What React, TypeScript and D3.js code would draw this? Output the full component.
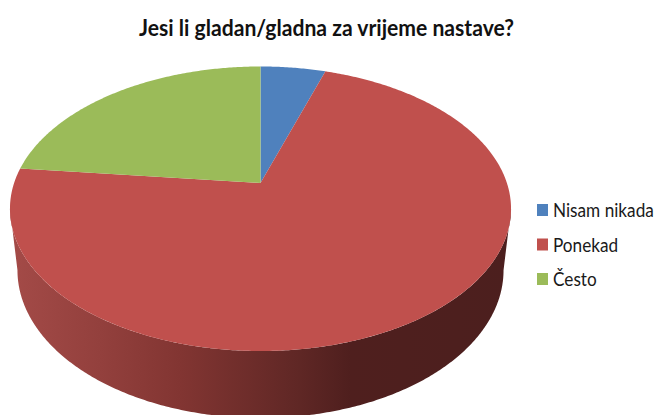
import React from "react";
import * as d3 from "d3";

const categories = ["Nisam nikada", "Ponekad", "Često"];
const shares = [5, 71.7, 23.3];
const colors = ["#4f81bd", "#c0504d", "#9bbb59"];
const chartTitle = "Jesi li gladan/gladna za vrijeme nastave?";

const WIDTH = 656;
const HEIGHT = 415;

// Perspective of the tilted lid: the pie's centre sits above the middle of its ellipse.
const CX = 260.5;
const CY = 183;
const TILT = 0.181;
const RX = 246.4;
const RY = 137.6;

// Lower rim, as an ellipse laid out relative to the lid ellipse.
const LID_MID = 208.5;
const LID_RY = 142.5;
const LID_RX = 250.5;
const RIM_MID = 270;
const RIM_RY = 148;
const RIM_RX = 243;

type Pt = [number, number];

const lid = (theta: number): Pt => {
  const w = 1 + TILT * Math.cos(theta);
  return [CX + (RX * Math.sin(theta)) / w, CY - (RY * Math.cos(theta)) / w];
};

const rim = (theta: number): Pt => {
  const [x, y] = lid(theta);
  return [
    CX + ((x - CX) / LID_RX) * RIM_RX,
    RIM_MID + ((y - LID_MID) / LID_RY) * RIM_RY,
  ];
};

const linePath = d3.line<Pt>();

const pieAngles = d3.pie<number>().sort(null)(shares);

const slicePath = (start: number, end: number) => {
  const steps = Math.max(2, Math.ceil((end - start) / 0.01));
  const angle = d3.scaleLinear().domain([0, steps]).range([start, end]);
  const arcPts = d3.range(steps + 1).map((i) => lid(angle(i)));
  return linePath([[CX, CY], ...arcPts]) + "Z";
};

// The wall runs between the lid's two horizontal extremes, where cos(theta) = -TILT.
const wallStart = Math.acos(-TILT);
const wallEnd = 2 * Math.PI - wallStart;
const wallAngle = d3.scaleLinear().domain([0, 300]).range([wallStart, wallEnd]);
const wallTicks = d3.range(301).map((i) => wallAngle(i));
const wallPath =
  linePath([...wallTicks.map(lid), ...wallTicks.slice().reverse().map(rim)]) + "Z";

// Wall shading runs from a lit left edge to a dark right side.
const wallStops: [number, string][] = [
  [15, "#a34a47"],
  [100, "#93403d"],
  [180, "#823532"],
  [300, "#5f2725"],
  [350, "#4f1f1e"],
  [510, "#4c1f1e"],
];

const legendY = d3.scalePoint<string>().domain(categories).range([210, 279]);

export default function App() {
  return (
    <svg
      width={WIDTH}
      height={HEIGHT}
      viewBox={`0 0 ${WIDTH} ${HEIGHT}`}
      style={{ position: "absolute", left: 0, top: 0, display: "block", background: "#fff" }}
    >
      <defs>
        <linearGradient id="wall" gradientUnits="userSpaceOnUse" x1={15} x2={510} y1={0} y2={0}>
          {wallStops.map(([x, c]) => (
            <stop key={x} offset={(x - 15) / 495} stopColor={c} />
          ))}
        </linearGradient>
      </defs>

      <text
        x={326.5}
        y={36}
        textAnchor="middle"
        fontFamily="Lato, 'Open Sans', sans-serif"
        fontWeight={700}
        fontSize={23}
        textLength={375}
        lengthAdjust="spacingAndGlyphs"
        fill="#111"
      >
        {chartTitle}
      </text>

      <path d={wallPath} fill="url(#wall)" />

      <g>
        {pieAngles.map((s, i) => (
          <path key={categories[i]} d={slicePath(s.startAngle, s.endAngle)} fill={colors[i]} />
        ))}
      </g>

      <g fontFamily="Lato, 'Open Sans', sans-serif" fontSize={20} fill="#1a1a1a">
        {categories.map((name, i) => (
          <g key={name} transform={`translate(537,${legendY(name)})`}>
            <rect x={0} y={-6} width={11} height={12} fill={colors[i]} />
            <text transform="translate(16,7) scale(0.86,1)">{name}</text>
          </g>
        ))}
      </g>
    </svg>
  );
}
